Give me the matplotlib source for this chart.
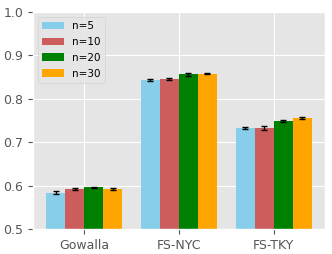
import numpy as np
import matplotlib
matplotlib.use('Agg')
import matplotlib.pyplot as plt

plt.style.use('ggplot')

datasets = ['Gowalla', 'FS-NYC', 'FS-TKY']
labels = ['n=5', 'n=10', 'n=20', 'n=30']
colors = ['skyblue', 'indianred', 'green', 'orange']

means = [
    [0.584, 0.844, 0.733],  # n=5
    [0.592, 0.846, 0.733],  # n=10
    [0.596, 0.856, 0.749],  # n=20
    [0.593, 0.858, 0.756],  # n=30
]
errs = [
    [0.003, 0.002, 0.003],
    [0.002, 0.002, 0.004],
    [0.002, 0.003, 0.003],
    [0.002, 0.002, 0.003],
]

x = np.arange(len(datasets))
width = 0.2

fig, ax = plt.subplots(figsize=(3.32, 2.54), dpi=100)
for i in range(len(labels)):
    ax.bar(x + (i - 1.5) * width, means[i], width, yerr=errs[i],
           color=colors[i], label=labels[i], capsize=2,
           error_kw={'elinewidth': 1, 'capthick': 1, 'ecolor': 'black'})

ax.set_ylim(0.5, 1.0)
ax.set_yticks([0.5, 0.6, 0.7, 0.8, 0.9, 1.0])
ax.set_xticks(x)
ax.set_xticklabels(datasets)
ax.tick_params(labelsize=9, colors='#555555')
ax.legend(loc='upper left', fontsize=7.5, labelspacing=0.55, handlelength=2.1)

plt.subplots_adjust(left=0.099, right=0.979, top=0.953, bottom=0.098)
plt.savefig('out.png')
